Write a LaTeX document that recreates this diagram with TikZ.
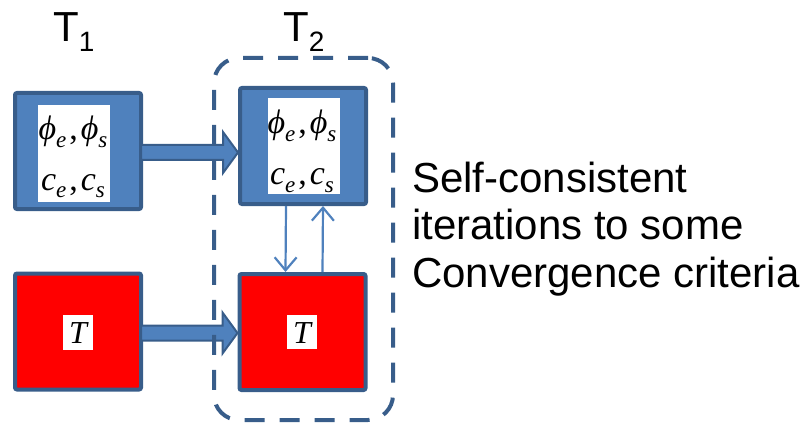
\RequirePackage{fix-cm}
\documentclass[tikz,border=0pt]{standalone}
\usepackage{fontspec}
\setmainfont{Liberation Sans}
\newfontfamily\eqfont{Liberation Serif}
\usetikzlibrary{calc,arrows.meta}

\definecolor{boxblue}{HTML}{4F81BD}
\definecolor{edgeblue}{HTML}{385D8A}
\definecolor{hotred}{HTML}{FF0000}

% italic symbol with a lowered subscript
\newcommand\sbs[2]{#1\raisebox{-0.22em}{\fontsize{23}{23}\selectfont #2}}
% upright comma with math-like spacing
\newcommand\eqsep{\hspace{3pt}\upshape,\itshape\hspace{3pt}}

\tikzset{
  statebox/.style={draw=edgeblue, line width=4pt, rounded corners=2pt, inner sep=0pt,
    minimum width=126pt, minimum height=116pt},
  bluebox/.style={statebox, fill=boxblue},
  redbox/.style={statebox, fill=hotred},
  whitepad/.style={fill=white, inner sep=0pt},
  eqlbl/.style={inner sep=0pt, anchor=base, font=\eqfont\itshape\fontsize{34}{34}\selectfont},
  tlbl/.style={inner sep=0pt, anchor=base, font=\eqfont\itshape\fontsize{32}{32}\selectfont},
  barrow/.style={fill=boxblue, draw=edgeblue, line width=2pt, line join=miter},
  thinarrow/.style={draw=boxblue, line width=2.2pt,
    -{Straight Barb[length=13pt, width=22pt, line width=2.2pt]}},
  loopframe/.style={draw=edgeblue, line width=4pt, rounded corners=25pt,
    dash pattern=on 20pt off 15pt, inner sep=0pt, minimum width=179pt, minimum height=362pt},
  ttl/.style={inner sep=0pt, anchor=base west, font=\fontsize{42}{42}\selectfont},
  note/.style={inner sep=0pt, anchor=base west, align=left,
    font=\fontsize{42}{47.5}\selectfont}
}

% thick block arrow between the east side of #1 and the west side of #2
\newcommand\blockarrow[2]{%
  \draw[barrow] let \p1=(#1.east), \p2=(#2.west) in
    (\x1-2pt,\y1-1.5pt+7.5pt) -- (\x2-15pt,\y1-1.5pt+7.5pt) -- (\x2-15pt,\y1-1.5pt+20.5pt)
    -- (\x2,\y1-1.5pt) -- (\x2-15pt,\y1-1.5pt-20.5pt) -- (\x2-15pt,\y1-1.5pt-7.5pt)
    -- (\x1-2pt,\y1-1.5pt-7.5pt) -- cycle;}

\begin{document}
\begin{tikzpicture}[x=1pt, y=-1pt]
\useasboundingbox (0,0) rectangle (806,425);

% time-step titles
\node[ttl] (t1) at (53,42) {T\raisebox{-10pt}{\fontsize{28}{28}\selectfont 1}};
\node[ttl] (t2) at (283,42) {T\raisebox{-10pt}{\fontsize{28}{28}\selectfont 2}};

% state boxes
\node[bluebox] (box1) at (78,151) {};
\node[bluebox] (box2) at (303,146) {};
\node[redbox]  (red1) at (78,331.5) {};
\node[redbox]  (red2) at (302.5,332) {};

% white label pads
\node[whitepad, minimum width=72pt, minimum height=97pt] (pad1) at (74,153.5) {};
\node[whitepad, minimum width=72pt, minimum height=96pt] (pad2) at (304,146) {};
\node[whitepad, minimum width=30pt, minimum height=35pt] (padt1) at (78,332.5) {};
\node[whitepad, minimum width=30pt, minimum height=34pt] (padt2) at (302,332) {};

% labels
\node[eqlbl] (phi1) at (73,140) {\sbs{ϕ}{e}\eqsep\sbs{ϕ}{s}};
\node[eqlbl] (c1)   at (73,190) {\sbs{c}{e}\eqsep\sbs{c}{s}};
\node[eqlbl] (phi2) at (302,134) {\sbs{ϕ}{e}\eqsep\sbs{ϕ}{s}};
\node[eqlbl] (c2)   at (302,185) {\sbs{c}{e}\eqsep\sbs{c}{s}};
\node[tlbl] (tl1)  at (78,343) {T};
\node[tlbl] (tl2)  at (302,343) {T};

% time advance
\blockarrow{box1}{box2}
\blockarrow{red1}{red2}

% coupling between the two solvers
\draw[thinarrow] ($(box2.south)+(-17,0)$) -- ($(red2.north)+(-17,0)$);
\draw[thinarrow] ($(red2.north)+(20,0)$) -- ($(box2.south)+(20,0)$);

% iteration frame
\node[loopframe] (loop) at (303.5,239) {};

% explanation
\node[note] (txt) at (412,287) {Self-consistent\\iterations to some\\Convergence criteria};
\end{tikzpicture}
\end{document}
